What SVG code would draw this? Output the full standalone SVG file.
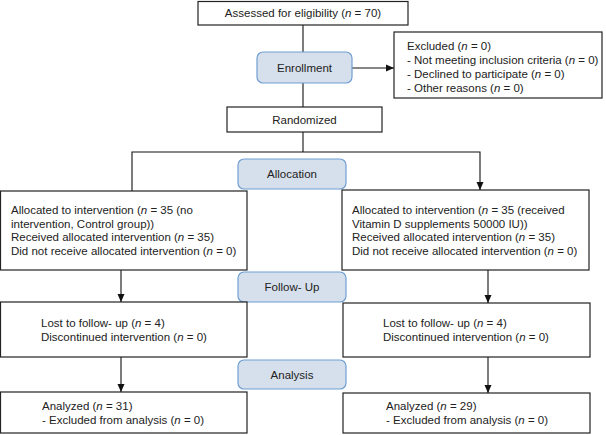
<svg xmlns="http://www.w3.org/2000/svg" width="606" height="435" viewBox="0 0 606 435">
<defs>
<style>
.box{fill:#fff;stroke:#222;stroke-width:1.2}
.stage{fill:#d6dfec;stroke:#6f9fd2;stroke-width:1.2}
.t{font-family:"Liberation Sans",Arial,sans-serif;font-size:11.5px;fill:#222}
.c{text-anchor:middle}
.ln{fill:none;stroke:#111;stroke-width:1.1}
</style>
<marker id="ah" markerUnits="userSpaceOnUse" markerWidth="8" markerHeight="8" viewBox="0 0 8 8" refX="8" refY="4" orient="auto">
<path d="M0,0.5 L8,4 L0,7.5 Z" fill="#111"/>
</marker>
</defs>
<rect width="606" height="435" fill="#fff"/>
<g id="connectors">
<line class="ln" x1="303" y1="25" x2="303" y2="107"/>
<line class="ln" x1="352" y1="68" x2="394" y2="68" marker-end="url(#ah)"/>
<polyline class="ln" points="303,132 303,152"/>
<polyline class="ln" points="132,191 132,152 480,152 480,190" marker-start="url(#ah)" marker-end="url(#ah)"/>
<line class="ln" x1="121" y1="270" x2="121" y2="302" marker-end="url(#ah)"/>
<line class="ln" x1="488" y1="270" x2="488" y2="303" marker-end="url(#ah)"/>
<line class="ln" x1="121" y1="357" x2="121" y2="392" marker-end="url(#ah)"/>
<line class="ln" x1="488" y1="357" x2="488" y2="393" marker-end="url(#ah)"/>
</g>
<g id="assessed"><rect class="box" x="198" y="1.5" width="210" height="23.5"/><text class="t c" x="303" y="17">Assessed for eligibility (<tspan font-style="italic">n</tspan> = 70)</text></g>
<g id="enrollment"><rect class="stage" x="257" y="52" width="95" height="31" rx="6"/><text class="t c" x="304.5" y="71.5">Enrollment</text></g>
<g id="excluded"><rect class="box" x="394" y="32" width="208" height="66"/>
<text class="t" x="407" y="50">Excluded (<tspan font-style="italic">n</tspan> = 0)</text>
<text class="t" x="407" y="64">- Not meeting inclusion criteria (<tspan font-style="italic">n</tspan> = 0)</text>
<text class="t" x="407" y="78">- Declined to participate (<tspan font-style="italic">n</tspan> = 0)</text>
<text class="t" x="407" y="92">- Other reasons (<tspan font-style="italic">n</tspan> = 0)</text></g>
<g id="randomized"><rect class="box" x="227" y="107" width="155" height="25"/><text class="t c" x="304.5" y="123.5">Randomized</text></g>
<g id="allocation"><rect class="stage" x="238" y="159" width="108" height="30" rx="6"/><text class="t c" x="292" y="178">Allocation</text></g>
<g id="alloc-left"><rect class="box" x="0.5" y="191" width="246.5" height="79"/>
<text class="t" x="11" y="214">Allocated to intervention (<tspan font-style="italic">n</tspan> = 35 (no</text>
<text class="t" x="11" y="227.5">intervention, Control group))</text>
<text class="t" x="11" y="241">Received allocated intervention (<tspan font-style="italic">n</tspan> = 35)</text>
<text class="t" x="11" y="254.5">Did not receive allocated intervention (<tspan font-style="italic">n</tspan> = 0)</text></g>
<g id="alloc-right"><rect class="box" x="342" y="190" width="247" height="80"/>
<text class="t" x="352" y="214">Allocated to intervention (<tspan font-style="italic">n</tspan> = 35 (received</text>
<text class="t" x="352" y="227.5">Vitamin D supplements 50000 IU))</text>
<text class="t" x="352" y="241">Received allocated intervention (<tspan font-style="italic">n</tspan> = 35)</text>
<text class="t" x="352" y="254.5">Did not receive allocated intervention (<tspan font-style="italic">n</tspan> = 0)</text></g>
<g id="followup"><rect class="stage" x="238" y="272" width="108" height="30" rx="6"/><text class="t c" x="292" y="291">Follow- Up</text></g>
<g id="lost-left"><rect class="box" x="0.5" y="302" width="246.5" height="55"/>
<text class="t" x="41" y="327">Lost to follow- up (<tspan font-style="italic">n</tspan> = 4)</text>
<text class="t" x="41" y="341">Discontinued intervention (<tspan font-style="italic">n</tspan> = 0)</text></g>
<g id="lost-right"><rect class="box" x="343" y="303" width="247" height="54"/>
<text class="t" x="383" y="327">Lost to follow- up (<tspan font-style="italic">n</tspan> = 4)</text>
<text class="t" x="383" y="341">Discontinued intervention (<tspan font-style="italic">n</tspan> = 0)</text></g>
<g id="analysis"><rect class="stage" x="238" y="360" width="108" height="29" rx="6"/><text class="t c" x="292" y="378.5">Analysis</text></g>
<g id="analyzed-left"><rect class="box" x="0.5" y="392" width="246.5" height="41"/>
<text class="t" x="42" y="410">Analyzed (<tspan font-style="italic">n</tspan> = 31)</text>
<text class="t" x="42" y="424">- Excluded from analysis (<tspan font-style="italic">n</tspan> = 0)</text></g>
<g id="analyzed-right"><rect class="box" x="343" y="393" width="247" height="40"/>
<text class="t" x="386" y="410">Analyzed (<tspan font-style="italic">n</tspan> = 29)</text>
<text class="t" x="386" y="424">- Excluded from analysis (<tspan font-style="italic">n</tspan> = 0)</text></g>
</svg>
